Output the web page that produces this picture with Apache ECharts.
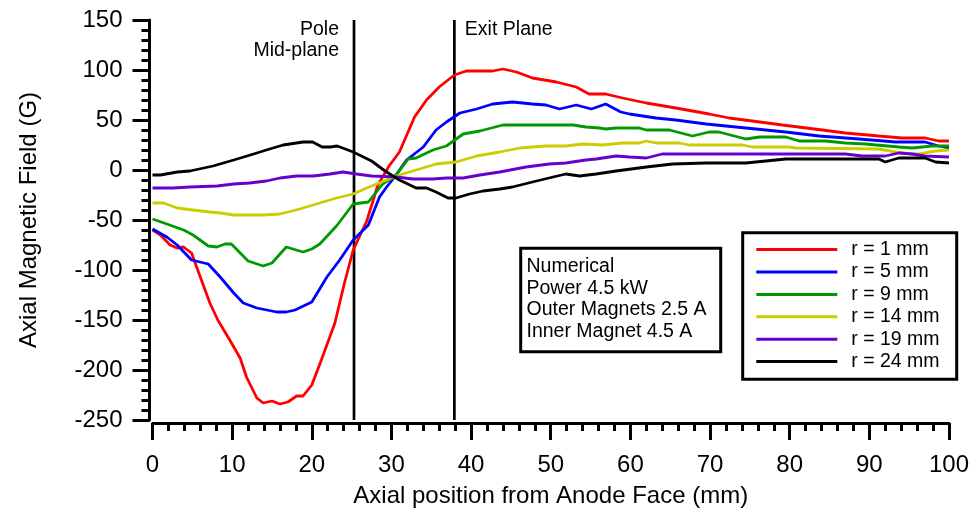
<!DOCTYPE html>
<html>
<head>
<meta charset="utf-8">
<script src="https://cdn.jsdelivr.net/npm/echarts@6/dist/echarts.min.js"></script>
<style>
  html, body { margin: 0; padding: 0; background: #fff; }
  #chart { width: 972px; height: 515px; }
</style>
</head>
<body>
<div id="chart"></div>
<script>
// Axial magnetic field profiles along the thruster axis, one curve per radius.
const FONT = '"Liberation Sans", Arial, Helvetica, sans-serif';

// [axial position (mm), field (G)]
const r1mm = [[0,-60],[1,-65],[2.2,-75],[3.1,-78],[3.9,-77],[4.9,-83],[6,-107],[7.2,-133],[8.2,-150],[9.7,-170],[11,-188],[11.8,-207],[13.1,-228],[13.9,-233],[15,-231],[16,-234],[17,-232],[18.1,-226],[18.9,-226],[20,-215],[21.2,-190],[22.9,-153],[24.1,-113],[25.2,-80],[26.9,-51],[28.3,-15],[29.7,4],[31,18],[32.9,53],[34.4,70],[36,83],[37.9,95],[39.4,99],[42.7,99],[44,101],[45.7,98],[47.7,92],[50.7,88],[53.2,83],[54.8,76],[56.9,76],[59,72],[62,67],[65.7,62],[69.9,56],[72.4,52],[75.3,49],[79.1,45],[84.1,40],[87,37],[91.2,34],[94.1,32],[97,32],[98.7,29],[100,29]];
const r5mm = [[0,-59],[1.8,-67],[3.1,-75],[4.9,-90],[7,-94],[8.5,-107],[10.2,-123],[11.4,-133],[13.1,-138],[15.6,-142],[16.8,-142],[17.9,-140],[20,-132],[21.9,-107],[23.5,-90],[25.2,-70],[27.1,-55],[28.5,-27],[29.4,-17],[30.4,-7],[31.9,10],[34,23],[35.6,40],[36.9,48],[38.6,57],[40.7,61],[42.7,66],[45.2,68],[47.7,66],[49.4,65],[51.1,61],[53.2,65],[55.1,61],[56.9,66],[58.8,58],[59.9,56],[63.2,52],[65.7,50],[69.5,46],[74.5,42],[79.5,38],[83.7,34],[88.7,31],[93.3,28],[97,28],[98.7,24],[100,22]];
const r9mm = [[0,-49],[1.8,-54],[3.9,-60],[5.1,-65],[7,-76],[8.1,-77],[9.1,-74],[9.9,-74],[12,-91],[13.9,-96],[15,-93],[16.8,-77],[18.9,-82],[20,-79],[21,-74],[23.1,-56],[25.2,-34],[27.1,-32],[28.9,-14],[30.6,-5],[32.1,11],[33.1,12],[35.2,20],[36.9,24],[39,36],[41.1,39],[44,45],[47.7,45],[52.8,45],[54.4,43],[56.1,42],[56.9,41],[58.2,42],[61.1,42],[62,40],[64.9,40],[67.8,34],[69.9,38],[71.1,38],[74.5,31],[76.2,33],[79.5,33],[81.2,29],[84.5,29],[87,27],[89.5,26],[93.7,23],[95.4,22],[97.9,24],[100,24]];
const r14mm = [[0,-33],[1.4,-33],[3.1,-38],[5.1,-40],[7.2,-42],[8.5,-43],[10.2,-45],[12.2,-45],[13.9,-45],[16,-44],[18.5,-39],[21,-33],[23.1,-28],[25.2,-24],[26.9,-18],[29.4,-10],[31,-5],[33.1,0],[35.6,6],[38.1,8],[40.7,14],[43.6,18],[46.1,22],[49.4,24],[51.9,24],[54,26],[56.5,25],[59,27],[61.1,27],[62,29],[63.2,27],[66.1,27],[67.4,25],[74.1,25],[75.3,23],[79.9,23],[80.8,22],[91.2,21],[93.3,18],[95.4,16],[96.3,16],[98.3,19],[100,20]];
const r19mm = [[0,-18],[2.6,-18],[4.7,-17],[8.1,-16],[10.2,-14],[12.2,-13],[14.3,-11],[16,-8],[18.1,-6],[20.2,-6],[22.3,-4],[23.9,-2],[25.6,-4],[27.5,-6],[30.6,-7],[32.7,-9],[35.2,-9],[36.9,-8],[39,-8],[41.1,-5],[43.6,-2],[46.9,3],[49.8,6],[51.9,7],[54.4,10],[55.7,11],[58.2,14],[59.9,13],[62,12],[64,16],[70.3,16],[87,16],[89.1,14],[92,14],[93.7,17],[95.4,16],[97,14],[100,13]];
const r24mm = [[0,-5],[1,-5],[3.1,-2],[4.7,-1],[7.6,4],[10.2,10],[12.7,16],[14.3,20],[16.4,25],[18.9,28],[20.1,28],[21.3,23],[22.3,23],[23.2,24],[25.2,18],[27.5,9],[29.2,-1],[31,-10],[33.1,-18],[34.4,-18],[35.6,-22],[37.1,-28],[38.1,-28],[39.8,-24],[41.5,-21],[43.6,-19],[45.2,-17],[47.7,-12],[50.3,-7],[51.9,-4],[53.6,-6],[55.7,-4],[58.2,-1],[62,3],[65.3,6],[69.5,7],[74.5,7],[77,9],[79.5,11],[91.2,11],[92,8],[93.7,12],[97,12],[98.3,8],[100,7]];

const seriesNames = ['r = 1 mm', 'r = 5 mm', 'r = 9 mm', 'r = 14 mm', 'r = 19 mm', 'r = 24 mm'];
const seriesData = [r1mm, r5mm, r9mm, r14mm, r19mm, r24mm];
const seriesColors = ['#ff0000', '#0000ff', '#009900', '#cccc00', '#6600cc', '#000000'];

// Reference planes (mm)
const planeNames = ['Pole\nMid-plane', 'Exit Plane'];
const planePositions = [25.3, 37.9];

// Simulation settings box
const infoLines = ['Numerical', 'Power 4.5 kW', 'Outer Magnets 2.5 A', 'Inner Magnet 4.5 A'];

const xRange = { min: 0, max: 100, interval: 10 };
const yRange = { min: -250, max: 150, interval: 50 };

const chart = echarts.init(document.getElementById('chart'), null, { renderer: 'canvas' });

const curveSeries = seriesNames.map((name, i) => ({
  name,
  type: 'line',
  data: seriesData[i],
  symbol: 'none',
  smooth: false,
  color: seriesColors[i],
  lineStyle: { color: seriesColors[i], width: 2.8 },
  silent: true,
  z: 3
}));

const planeSeries = planePositions.map((x, i) => ({
  name: 'plane' + i,
  type: 'line',
  data: [[x, yRange.min], [x, yRange.max]],
  symbol: 'none',
  lineStyle: { color: '#000', width: 2.7 },
  silent: true,
  z: 2
}));

const axisCommon = {
  type: 'value',
  offset: 3,
  axisLine: { show: true, onZero: false, lineStyle: { color: '#000', width: 3 } },
  axisTick: { show: true, inside: false, length: 17, lineStyle: { color: '#000', width: 3 } },
  minorTick: { show: true, splitNumber: 5, length: 8, lineStyle: { color: '#000', width: 3 } },
  splitLine: { show: false },
  minorSplitLine: { show: false },
  nameLocation: 'middle',
  nameTextStyle: { fontSize: 24, color: '#000', fontFamily: FONT }
};

chart.setOption({
  animation: false,
  backgroundColor: '#fff',
  grid: { left: 152.5, right: 21.5, top: 20, bottom: 95, containLabel: false },
  xAxis: Object.assign({}, axisCommon, {
    min: xRange.min, max: xRange.max, interval: xRange.interval,
    name: 'Axial position from Anode Face (mm)',
    nameGap: 61,
    axisLabel: { fontSize: 24, color: '#000', fontFamily: FONT, margin: 30 }
  }),
  yAxis: Object.assign({}, axisCommon, {
    min: yRange.min, max: yRange.max, interval: yRange.interval,
    name: 'Axial Magnetic Field (G)',
    nameGap: 108,
    axisLabel: { fontSize: 24, color: '#000', fontFamily: FONT, margin: 27 }
  }),
  legend: {
    data: seriesNames,
    orient: 'vertical',
    left: 743,
    top: 233,
    icon: 'rect',
    itemWidth: 81,
    itemHeight: 3,
    itemGap: 2.4,
    padding: [6.6, 5, 8, 13.3],
    borderWidth: 0,
    selectedMode: false,
    textStyle: { fontSize: 19.5, lineHeight: 20, color: '#000', fontFamily: FONT, padding: [0, 0, 0, 9] }
  },
  series: planeSeries.concat(curveSeries)
});

// Labels for the reference planes, anchored to their axis positions
const labelGraphics = planePositions.map((x, i) => {
  const px = chart.convertToPixel({ gridIndex: 0 }, [x, yRange.max])[0];
  const leftSide = i === 0;
  return {
    type: 'text',
    silent: true,
    x: leftSide ? px - 15 : px + 10.5,
    y: 18.5,
    style: {
      text: planeNames[i],
      font: '19.5px ' + FONT,
      fill: '#000',
      align: leftSide ? 'right' : 'left',
      verticalAlign: 'top',
      lineHeight: 21.7
    }
  };
});

chart.setOption({
  graphic: labelGraphics.concat([
    // legend frame
    {
      type: 'rect',
      silent: true,
      shape: { x: 742.7, y: 232.7, width: 214, height: 146.6 },
      style: { fill: 'none', stroke: '#000', lineWidth: 3 },
      z: 10
    },
    // settings box
    {
      type: 'rect',
      silent: true,
      shape: { x: 520.7, y: 248.3, width: 200, height: 103.4 },
      style: { fill: '#fff', stroke: '#000', lineWidth: 3 },
      z: 10
    },
    {
      type: 'text',
      silent: true,
      x: 526.5,
      y: 255.8,
      style: {
        text: infoLines.join('\n'),
        font: '19.5px ' + FONT,
        fill: '#000',
        align: 'left',
        verticalAlign: 'top',
        lineHeight: 21.7
      },
      z: 11
    }
  ])
});
</script>
</body>
</html>
